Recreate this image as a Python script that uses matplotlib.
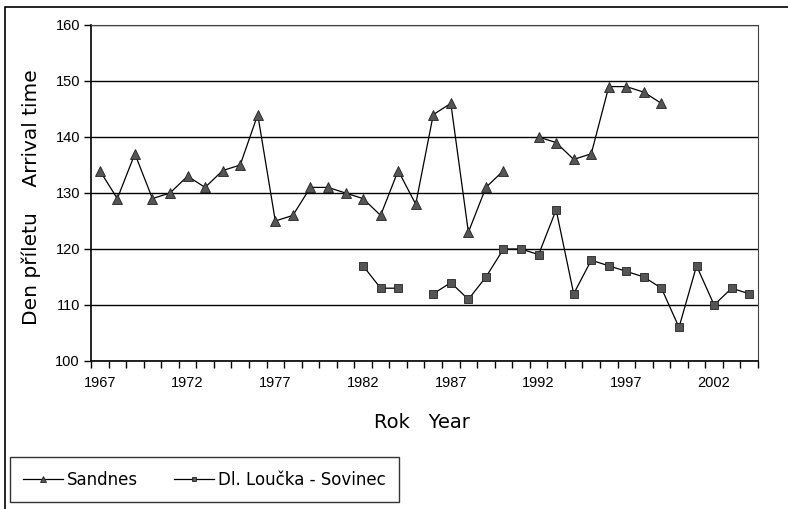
import numpy as np
import matplotlib.pyplot as plt
from matplotlib.patches import Rectangle

plt.rcParams['font.family'] = ['Liberation Sans', 'DejaVu Sans']

# Years 1967 - 2004, None = no observation
years = list(range(1967, 2005))
sandnes = [134, 129, 137, 129, 130, 133, 131, 134, 135, 144,
           125, 126, 131, 131, 130, 129, 126, 134, 128, 144,
           146, 123, 131, 134, None, 140, 139, 136, 137, 149,
           149, 148, 146, None, None, None, None, None]
loucka = [None, None, None, None, None, None, None, None, None, None,
          None, None, None, None, None, 117, 113, 113, None, 112,
          114, 111, 115, 120, 120, 119, 127, 112, 118, 117,
          116, 115, 113, 106, 117, 110, 113, 112]
year_labels = [1967, 1972, 1977, 1982, 1987, 1992, 1997, 2002]
y_ticks = [100, 110, 120, 130, 140, 150, 160]


def to_arr(vals):
    return np.array([np.nan if v is None else v for v in vals], dtype=float)


fig = plt.figure(figsize=(7.88, 5.09), dpi=100)
ax = fig.add_axes([91 / 788, 1 - 361 / 509, (758 - 91) / 788, (361 - 25) / 509])

ax.plot(years, to_arr(sandnes), color='black', lw=0.9, marker='^', ms=7.5,
        mfc='#555555', mec='#222222', mew=0.6, label='Sandnes')
ax.plot(years, to_arr(loucka), color='black', lw=0.9, marker='s', ms=6,
        mfc='#555555', mec='#222222', mew=0.6, label='Dl. Loučka - Sovinec')

ax.set_xlim(years[0] - 0.5, years[-1] + 0.5)
ax.set_ylim(100, 160)
ax.set_yticks(y_ticks)
ax.set_xticks(year_labels)
ax.set_xticks(np.arange(years[0] - 0.5, years[-1] + 1.0, 1.0), minor=True)
ax.tick_params(axis='x', which='major', length=0, pad=11, labelsize=10.5)
ax.tick_params(axis='x', which='minor', length=5, width=1, direction='out')
ax.tick_params(axis='y', length=5, width=1, direction='out', labelsize=10.5, pad=3)
ax.yaxis.grid(True, color='black', lw=1.0)
ax.set_axisbelow(True)
for side in ['left', 'bottom']:
    ax.spines[side].set_linewidth(1.2)
for side in ['top', 'right']:
    ax.spines[side].set_linewidth(0.8)
    ax.spines[side].set_color('#444444')

fig.text(422 / 788, 1 - 423 / 509, 'Rok   Year', ha='center', va='center',
         fontsize=14, family='DejaVu Sans')
fig.text(31 / 788, 1 - 197 / 509, 'Den příletu    Arrival time', ha='center', va='center',
         rotation=90, fontsize=14.5, family='DejaVu Sans')

leg = fig.legend(loc='lower left', bbox_to_anchor=(10 / 788, 1 - 502 / 509), ncol=2,
                 frameon=True, fancybox=False, edgecolor='black',
                 prop={'family': 'DejaVu Sans', 'size': 12},
                 handlelength=2.4, handletextpad=0.2, columnspacing=2.2,
                 borderpad=0.8, borderaxespad=0, markerscale=0.6)
leg.get_frame().set_linewidth(1.0)

# outer chart border
fig.patches.append(Rectangle((5 / 788, -0.05), 1.1, 1 - 7 / 509 + 0.05,
                             transform=fig.transFigure, fill=False,
                             edgecolor='black', lw=1.2, clip_on=False))

fig.savefig('out.png', dpi=100)
